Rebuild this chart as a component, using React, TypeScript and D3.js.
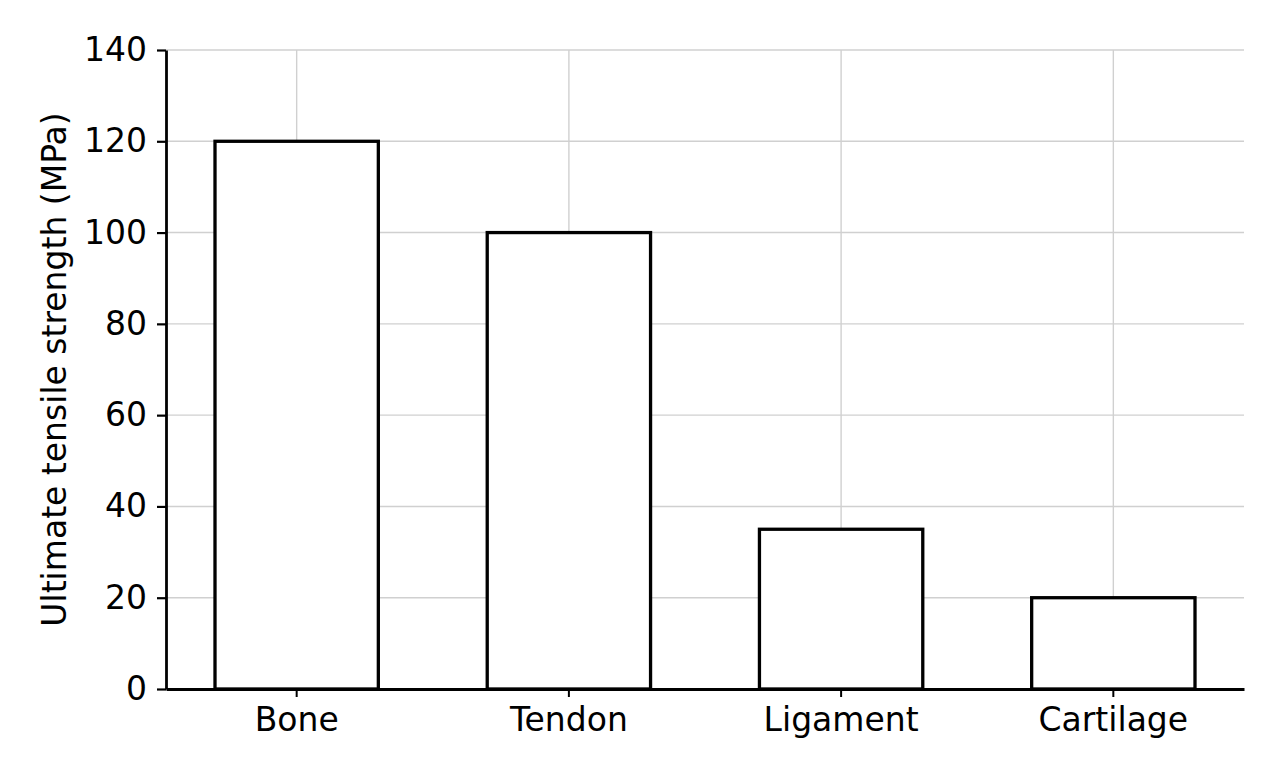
import React, { useEffect, useRef } from 'react';
import * as d3 from 'd3';

const tissues = ['Bone', 'Tendon', 'Ligament', 'Cartilage'];
const strengths = [120, 100, 35, 20];
const yTicks = [0, 20, 40, 60, 80, 100, 120, 140];

const width = 1280;
const height = 780;
const margin = { top: 50, right: 36, bottom: 91, left: 166 };
const font = 'DejaVu Sans, sans-serif';
const fontSize = 33;

export default function App() {
  const svgRef = useRef<SVGSVGElement>(null);

  useEffect(() => {
    if (!svgRef.current) return;
    const svg = d3.select(svgRef.current);
    svg.selectAll('*').remove();

    const innerW = width - margin.left - margin.right;
    const innerH = height - margin.top - margin.bottom;

    const x = d3.scaleBand<string>()
      .domain(tissues)
      .range([0, innerW])
      .paddingInner(0.4)
      .paddingOuter(0.18);

    const y = d3.scaleLinear().domain([0, 140]).range([innerH, 0]);

    const g = svg.append('g').attr('transform', `translate(${margin.left},${margin.top})`);

    // grid
    g.append('g')
      .selectAll('line')
      .data(yTicks)
      .enter().append('line')
      .attr('x1', 0)
      .attr('x2', innerW)
      .attr('y1', d => y(d))
      .attr('y2', d => y(d))
      .attr('stroke', '#d0d0d0')
      .attr('stroke-width', 1.4);

    g.append('g')
      .selectAll('line')
      .data(tissues)
      .enter().append('line')
      .attr('x1', d => x(d)! + x.bandwidth() / 2)
      .attr('x2', d => x(d)! + x.bandwidth() / 2)
      .attr('y1', 0)
      .attr('y2', innerH)
      .attr('stroke', '#d0d0d0')
      .attr('stroke-width', 1.4);

    // bars
    g.selectAll('.bar')
      .data(strengths)
      .enter().append('rect')
      .attr('class', 'bar')
      .attr('x', (_, i) => x(tissues[i])!)
      .attr('y', d => y(d))
      .attr('width', x.bandwidth())
      .attr('height', d => innerH - y(d))
      .attr('fill', 'white')
      .attr('stroke', 'black')
      .attr('stroke-width', 3.3);

    // axes
    const xAxis = g.append('g')
      .attr('transform', `translate(0,${innerH})`)
      .call(d3.axisBottom(x).tickSize(8).tickPadding(11).tickSizeOuter(0));
    xAxis.select('.domain').attr('stroke-width', 2.8);
    xAxis.selectAll('.tick line').attr('stroke-width', 2);
    xAxis.selectAll('.tick text')
      .attr('font-family', font)
      .attr('font-size', fontSize)
      .attr('fill', 'black');

    const yAxis = g.append('g')
      .call(d3.axisLeft(y).tickValues(yTicks).tickSize(9).tickPadding(10).tickSizeOuter(0));
    yAxis.select('.domain').attr('stroke-width', 2.8);
    yAxis.selectAll('.tick line').attr('stroke-width', 2.2);
    yAxis.selectAll('.tick text')
      .attr('font-family', font)
      .attr('font-size', fontSize)
      .attr('fill', 'black');

    svg.append('text')
      .attr('transform', `translate(66,${margin.top + innerH / 2}) rotate(-90)`)
      .attr('text-anchor', 'middle')
      .attr('font-family', font)
      .attr('font-size', fontSize)
      .text('Ultimate tensile strength (MPa)');
  }, []);

  return (
    <svg
      ref={svgRef}
      width={width}
      height={height}
      style={{ position: 'absolute', left: 0, top: 0, background: 'white' }}
    />
  );
}
